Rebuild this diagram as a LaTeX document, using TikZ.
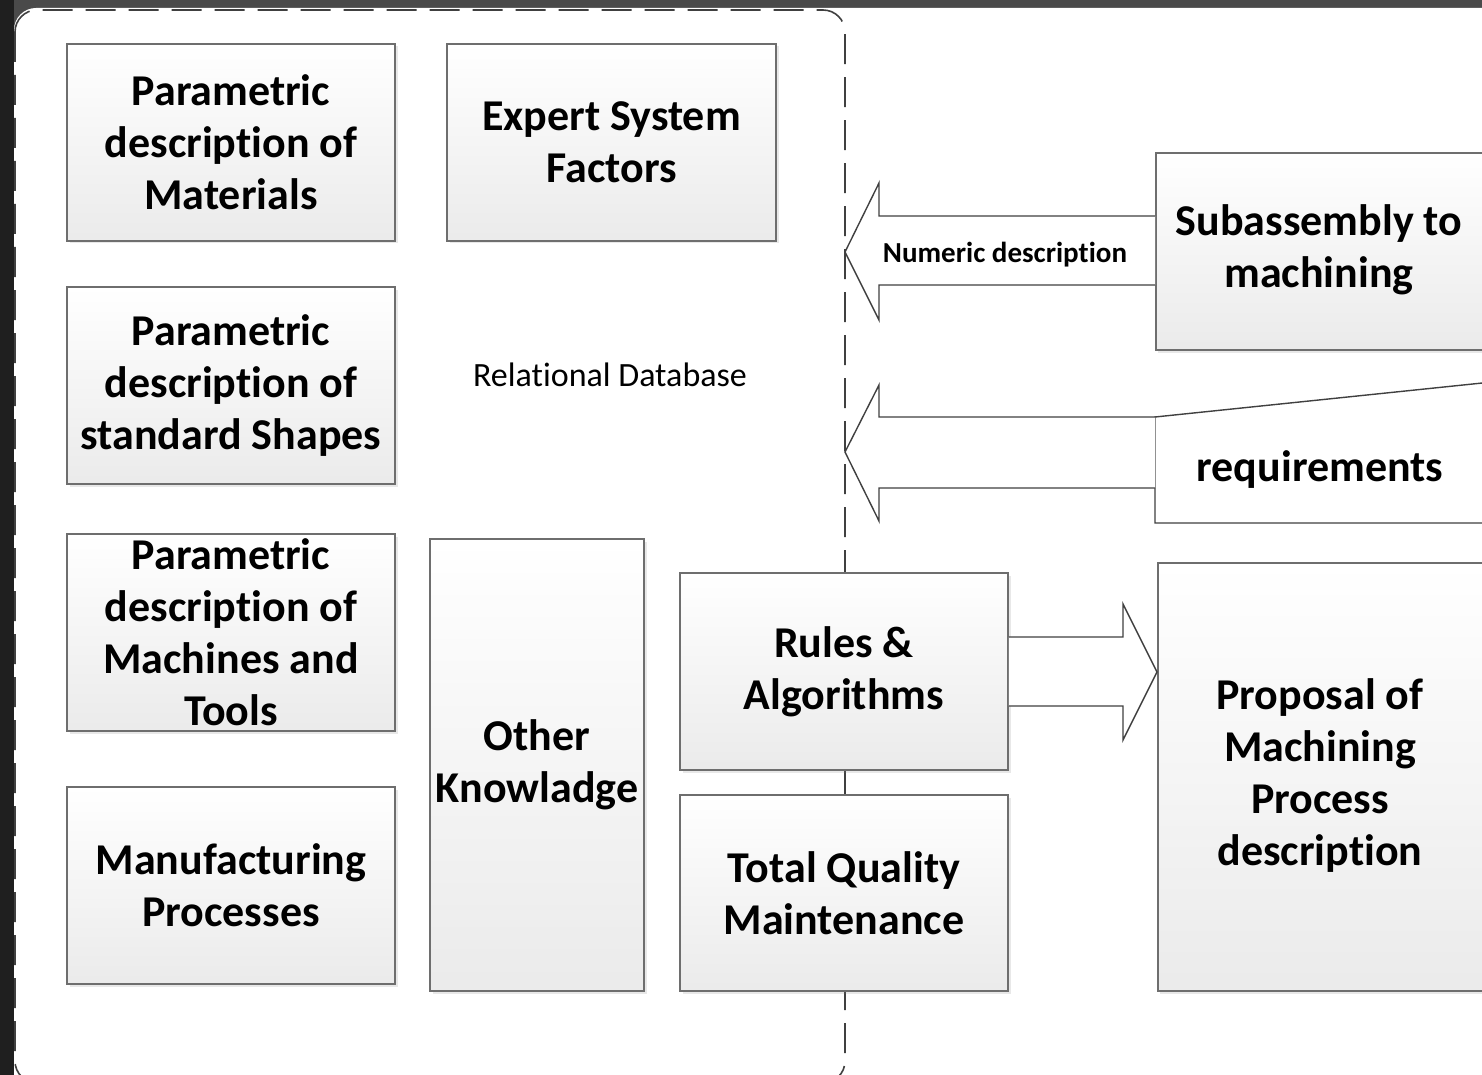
\documentclass[tikz,border=0pt]{standalone}
\usepackage{fontspec}
\setmainfont{Carlito}[Ligatures={NoCommon}]
\usetikzlibrary{shadows,calc}
\definecolor{edge}{HTML}{6E6E6E}
\definecolor{bg}{HTML}{4A4A4A}
\begin{document}
\begin{tikzpicture}[x=1pt,y=-1pt,
  kbox/.style={draw=edge, line width=1.6pt, top color=white, bottom color=black!8,
    align=center, inner sep=0pt, font=\fontsize{44}{52}\selectfont\bfseries,
    drop shadow={opacity=0.18, shadow xshift=2.5pt, shadow yshift=-2.5pt}},
  plainbox/.style={draw=black!75, line width=1.4pt, fill=white},
  barrow/.style={draw=black!75, line width=1.4pt, fill=white, line join=miter},
  lbl/.style={inner sep=0pt, font=\fontsize{29}{34}\selectfont\bfseries}]
\useasboundingbox (0,0) rectangle (1482,1075);
% background
\fill[bg] (0,0) rectangle (1482,1075);
\fill[black!88] (0,0) rectangle (14,1075);
\fill[white, rounded corners=22pt] (14,8) rectangle (1530,1120);
% relational database region
\draw[black!75, line width=1.6pt, dash pattern=on 30pt off 13pt, rounded corners=22pt]
  (15,10) rectangle (845,1083);
\node[inner sep=0pt, font=\fontsize{34}{40}\selectfont] (rdb) at (610,375) {Relational Database};

% left boxes
\node[kbox, minimum width=328pt, minimum height=197pt] (mat) at (231,142.5) {Parametric\\description of\\Materials};
\node[kbox, minimum width=329pt, minimum height=197pt] (exp) at (611.5,142.5) {Expert System\\Factors};
\node[kbox, minimum width=328pt, minimum height=197pt] (shp) at (231,385.5) {Parametric\\description of\\standard Shapes};
\node[kbox, minimum width=328pt, minimum height=197pt] (mac) at (231,632.5) {Parametric\\description of\\Machines and\\Tools};
\node[kbox, minimum width=328pt, minimum height=197pt] (man) at (231,885.5) {Manufacturing\\Processes};
\node[kbox, minimum width=214pt, minimum height=452pt] (oth) at (537,765) {Other\\Knowladge};
\node[kbox, minimum width=328pt, minimum height=197pt] (rul) at (844,671.5) {Rules \&\\Algorithms};
\node[kbox, minimum width=328pt, minimum height=196pt] (tqm) at (844,893) {Total Quality\\Maintenance};

% right boxes
\node[kbox, minimum width=335pt, minimum height=197pt, anchor=west] (sub) at (1155,251.5) {};
\node[font=\fontsize{44}{52}\selectfont\bfseries, align=center, inner sep=0pt] (subt) at (1319,250) {Subassembly to\\machining};
\node[kbox, minimum width=335pt, minimum height=428pt, anchor=west] (pro) at (1157,777) {};
\node[font=\fontsize{44}{52}\selectfont\bfseries, align=center, inner sep=0pt] (prot) at (1320,775.5) {Proposal of\\Machining\\Process\\description};
\coordinate (reqtl) at (1155,417);
\coordinate (reqtr) at (1492,382);
\coordinate (reqbl) at (1155,523);
\coordinate (reqbr) at (1492,523);
\filldraw[plainbox] (reqtr) -- (reqtl) -- (reqbl) -- (reqbr) -- cycle;
\node[font=\fontsize{44}{52}\selectfont\bfseries, inner sep=0pt] (req) at (1320,470) {requirements};

% block arrows
\coordinate (tip1) at (845,252);
\draw[barrow] ($(sub.west)+(0,-35.5)$) -- (879,216) -- (879,183) -- (tip1)
  -- (879,320) -- (879,285) -- ($(sub.west)+(0,33.5)$);
\node[lbl] (num) at (1005,255) {Numeric description};
\coordinate (tip2) at (845,452);
\draw[barrow] (reqtl) -- (879,417) -- (879,385) -- (tip2)
  -- (879,521) -- (879,488) -- (1155,488);
\draw[barrow] ($(rul.east)+(0,-34.5)$) -- (1123,637) -- (1123,604) -- (pro.west |- 0,672)
  -- (1123,740) -- (1123,706) -- ($(rul.east)+(0,34.5)$);
\end{tikzpicture}
\end{document}
